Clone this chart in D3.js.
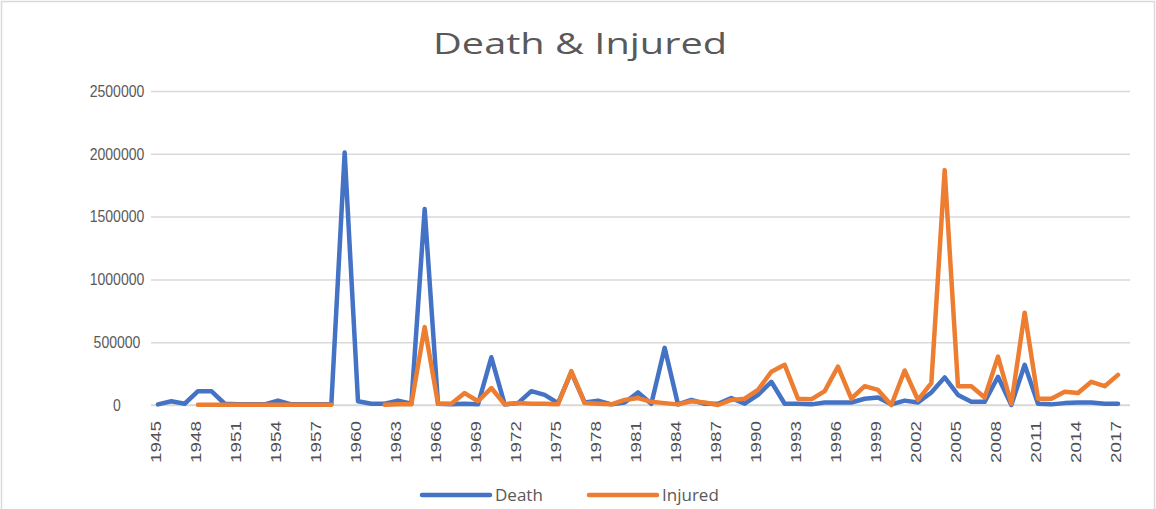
<!DOCTYPE html>
<html>
<head>
<meta charset="utf-8">
<script src="https://cdn.jsdelivr.net/npm/d3@7"></script>
<style>
html,body{margin:0;padding:0;background:#fff;}
svg{display:block;}
</style>
</head>
<body>
<svg id="chart" width="1156" height="509"></svg>
<script>
const years = d3.range(1945, 2018);
const yTicks = [0, 500000, 1000000, 1500000, 2000000, 2500000];
const xTickYears = d3.range(1945, 2018, 3);
const seriesNames = ["Death", "Injured"];
const death = [
  5000, 30000, 10000, 110000, 110000, 10000, 5000, 5000, 5000, 35000,
  5000, 5000, 5000, 5000, 2010000, 30000, 10000, 10000, 35000, 10000,
  1560000, 10000, 5000, 10000, 5000, 380000, 5000, 15000, 110000, 80000,
  15000, 260000, 20000, 35000, 5000, 20000, 100000, 10000, 455000, 5000,
  40000, 10000, 10000, 55000, 10000, 80000, 185000, 10000, 10000, 5000,
  20000, 20000, 20000, 50000, 60000, 5000, 35000, 20000, 100000, 220000,
  80000, 25000, 25000, 225000, 0, 320000, 10000, 5000, 15000, 20000,
  20000, 10000, 10000
];
const injured = [
  null, null, null, 2000, 2000, 2000, 2000, 2000, 2000, 2000,
  2000, 2000, 2000, 2000, null, null, null, 2000, 5000, 5000,
  620000, 10000, 10000, 95000, 30000, 135000, 5000, 15000, 10000, 10000,
  5000, 270000, 15000, 10000, 5000, 40000, 55000, 25000, 15000, 5000,
  30000, 20000, 0, 40000, 50000, 120000, 265000, 320000, 50000, 45000,
  110000, 305000, 50000, 150000, 120000, 0, 275000, 40000, 175000, 1870000,
  150000, 150000, 60000, 385000, 10000, 735000, 50000, 50000, 105000, 95000,
  185000, 150000, 240000
];
const colors = ["#4472C4", "#ED7D31"];

const svg = d3.select("#chart");
const textColor = "#595959";

// frame
svg.append("rect").attr("x", 1.5).attr("y", 1.5).attr("width", 1153).attr("height", 540)
  .attr("fill", "#fff").attr("stroke", "#d9d9d9").attr("stroke-width", 1.5);

const x = d3.scaleLinear().domain([1945, 2017]).range([158, 1118]);
const y = d3.scaleLinear().domain([0, 2500000]).range([405, 91]);

// title
svg.append("text").attr("x", 580).attr("y", 54).attr("text-anchor", "middle")
  .attr("font-family", "Open Sans, sans-serif").attr("font-size", 30)
  .attr("fill", textColor).attr("textLength", 294).attr("lengthAdjust", "spacingAndGlyphs")
  .text("Death & Injured");

// gridlines + y axis
const fmt = d3.format("d");
const yAxis = d3.axisLeft(y).tickValues(yTicks).tickSize(-(1130 - 151)).tickFormat(fmt).tickPadding(0);
const gy = svg.append("g").attr("transform", "translate(151,0)").call(yAxis);
gy.select(".domain").remove();
gy.selectAll(".tick line").attr("stroke", "#d9d9d9").attr("stroke-width", 1.5);
gy.selectAll(".tick text").attr("fill", textColor).attr("font-family", "Liberation Sans, Arial, sans-serif")
  .attr("font-size", 16.5)
  .attr("text-anchor", "middle")
  .attr("x", -34)
  .attr("textLength", d => fmt(d).length * 7.8).attr("lengthAdjust", "spacingAndGlyphs");

// x axis
const xAxis = d3.axisBottom(x).tickValues(xTickYears).tickSize(0).tickFormat(fmt);
const gx = svg.append("g").attr("transform", "translate(0,405)").call(xAxis);
gx.select(".domain").attr("stroke", "#d9d9d9").attr("stroke-width", 1.5)
  .attr("d", "M151,0H1130");
gx.selectAll(".tick text")
  .attr("fill", "#505050").attr("font-family", "Liberation Sans, Arial, sans-serif")
  .attr("font-size", 15.5)
  .attr("text-anchor", "end")
  .attr("transform", "translate(-3,16) rotate(-90)")
  .attr("x", 0).attr("y", 0).attr("dy", "0.35em")
  .attr("textLength", 42).attr("lengthAdjust", "spacingAndGlyphs");

// lines
const line = d3.line().defined(d => d[1] != null).x(d => x(d[0])).y(d => y(d[1]));
[death, injured].forEach((vals, i) => {
  svg.append("path").datum(years.map((yr, k) => [yr, vals[k]]))
    .attr("fill", "none").attr("stroke", colors[i]).attr("stroke-width", 4.5)
    .attr("stroke-linejoin", "round").attr("stroke-linecap", "round")
    .attr("d", line);
});

// legend
const legendX = [422, 589];
seriesNames.forEach((name, i) => {
  const g = svg.append("g").attr("transform", `translate(${legendX[i]},495)`);
  g.append("line").attr("x1", 0).attr("x2", 68).attr("y1", 0).attr("y2", 0)
    .attr("stroke", colors[i]).attr("stroke-width", 4.5).attr("stroke-linecap", "round");
  g.append("text").attr("x", 73).attr("y", 0).attr("dy", "0.35em")
    .attr("font-family", "Open Sans, sans-serif").attr("font-size", 17).attr("fill", textColor)
    .text(name);
});
</script>
</body>
</html>
